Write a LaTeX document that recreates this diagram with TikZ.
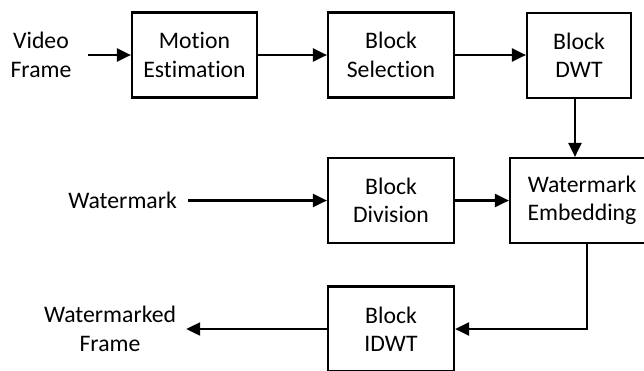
\documentclass[tikz,border=0pt]{standalone}
\usepackage{fontspec}
\setmainfont{Carlito}[RawFeature={-liga;-clig}]
\usepackage{tikz}
\usetikzlibrary{calc,arrows.meta}

\begin{document}
\begin{tikzpicture}[x=1bp,y=-1bp,
                      blk/.style={draw,line width=2.2bp,minimum height=85bp,align=center,inner sep=0pt,font=\fontsize{23.8}{28.5}\selectfont},
                      lbl/.style={align=center,inner sep=0pt,font=\fontsize{23.8}{28.5}\selectfont},
                      arr/.style={-{Triangle[length=14bp,width=13bp]},line width=2.2bp}]
                      \useasboundingbox (0,0) rectangle (644,370);
                      \node[lbl](video)at(41,55){Video\\Frame};
                      \node[blk,minimum width=125bp](motion)at(194.5,55){Motion\\Estimation};
                      \node[blk,minimum width=126bp](sel)at(391,55){Block\\Selection};
                      \node[blk,minimum width=104bp](dwt)at(579,55.5){Block\\DWT};
                      \node[lbl,anchor=east](wm)at(177,200.5){Watermark};
                      \node[blk,minimum width=126bp](div)at(391,200.5){Block\\Division};
                      \node[blk,minimum width=144bp](emb)at(582,200.5){Watermark\\Embedding};
                      \node[lbl](wmf)at(110,329){Watermarked\\Frame};
                      \node[blk,minimum width=126bp](idwt)at(391,329){Block\\IDWT};
                      \draw[arr,shorten <=16bp] (video) -- (motion);
                      \draw[arr] (motion) -- (sel);
                      \draw[arr] (sel) -- (sel -| dwt.west);
                      \draw[arr] ([xshift=-4bp]dwt.south) -- ([xshift=-4bp]dwt.south |- emb.north);
                      \draw[arr,shorten <=11bp] (wm.east) -- (div);
                      \draw[arr] (div) -- (emb);
                      \draw[arr] ([xshift=5bp]emb.south) |- (idwt.east);
                      \draw[arr,shorten >=10bp] (idwt) -- (wmf.east);
                  \end{tikzpicture}
\end{document}
